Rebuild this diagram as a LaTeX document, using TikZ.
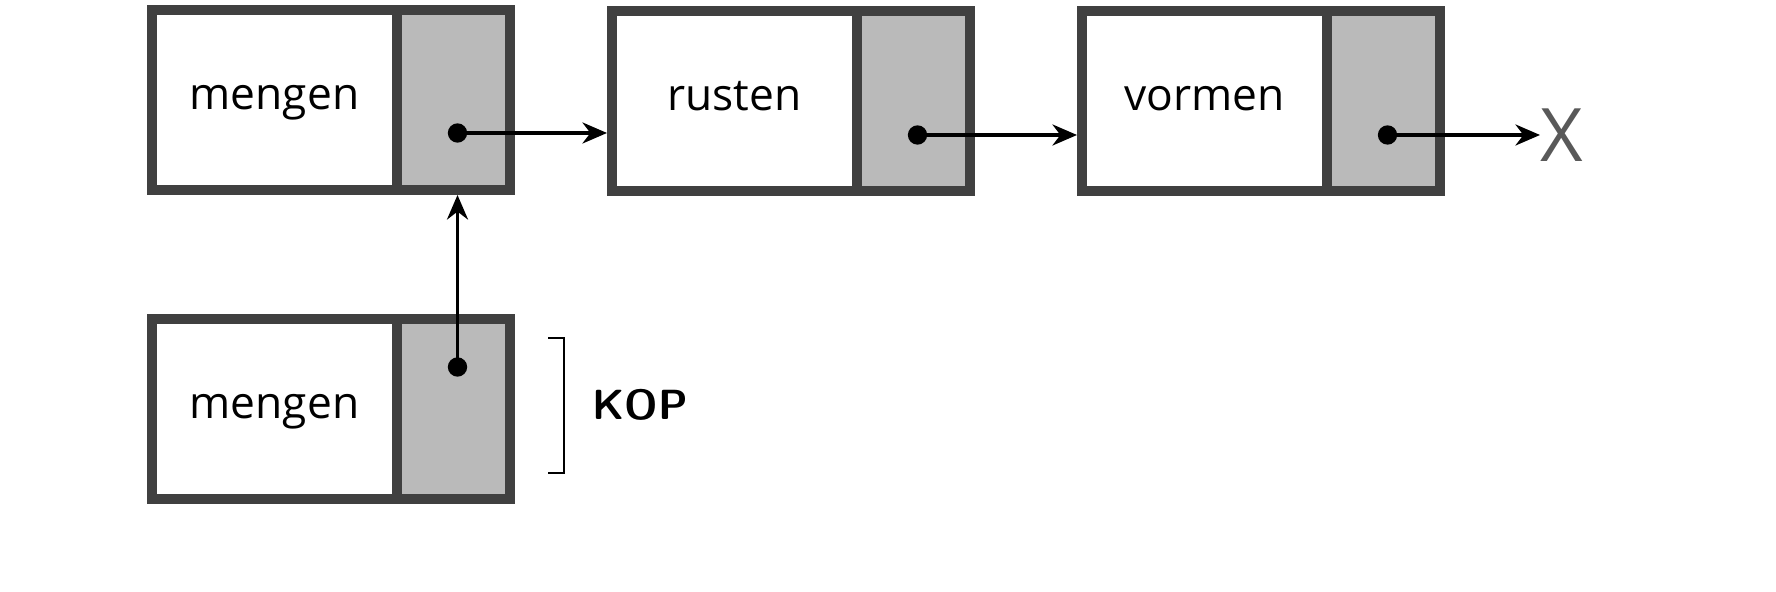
\documentclass[tikz,border=0pt]{standalone}
\usepackage{fontspec}
\setmainfont{Open Sans}
\usetikzlibrary{calc,positioning,arrows.meta}

\tikzset{
	cell/.style={draw=black!75, line width=2.8pt, inner sep=0pt, outer sep=0pt, minimum height=1.8cm},
	datacell/.style={cell, minimum width=2.45cm, text height=1ex, text depth=0pt, font=\fontsize{12.6}{14}\selectfont},
	ptrcell/.style={cell, fill=black!27, minimum width=1.13cm},
	link/.style={line width=0.9pt, -{Stealth[length=7pt,width=6pt]}},
	dot/.style={circle, fill=black, inner sep=0pt, minimum size=5.5pt}
}

\begin{document}
\begin{tikzpicture}
	\useasboundingbox (0,0) rectangle (17.76,5.92);
	% list
	\node[datacell, anchor=west] (d1) at (1.52,4.92) {mengen};
	\node[ptrcell, right=0pt of d1] (p1) {};
	\node[datacell, anchor=west] (d2) at (6.12,4.91) {rusten};
	\node[ptrcell, right=0pt of d2] (p2) {};
	\node[datacell, anchor=west] (d3) at (10.82,4.91) {vormen};
	\node[ptrcell, right=0pt of d3] (p3) {};
	% kop
	\node[datacell, anchor=west] (d4) at (1.52,1.83) {mengen};
	\node[ptrcell, right=0pt of d4] (p4) {};

	\node[dot] (q1) at ($(p1.center)+(0.04,-0.33)$) {};
	\node[dot] (q2) at ($(p2.center)+(0.04,-0.34)$) {};
	\node[dot] (q3) at ($(p3.center)+(0.04,-0.34)$) {};
	\node[dot] (q4) at ($(p4.center)+(0.04,0.42)$) {};
	\node[text=black!65, font=\fontsize{21}{24}\selectfont, anchor=west, inner sep=0pt] (nil) at (15.40,4.57) {X};

	\draw[link] (q1.center) -- ($(q1 -| d2.west)+(-0.05,0)$);
	\draw[link] (q2.center) -- ($(q2 -| d3.west)+(-0.05,0)$);
	\draw[link] (q3.center) -- (nil.west);
	\draw[link] (q4.center) -- ($(q4 |- p1.south)+(0,-0.05)$);

	% bracket
	\coordinate (b1) at (5.48,2.54);
	\coordinate (b2) at (5.48,1.19);
	\draw[line width=0.6pt] (b1) -- ++(0.16,0) -- ($(b2)+(0.16,0)$) -- (b2);
	\node[font=\sffamily\bfseries\fontsize{12}{14}\selectfont, anchor=west] (kop) at (5.80,1.87) {KOP};
\end{tikzpicture}
\end{document}
